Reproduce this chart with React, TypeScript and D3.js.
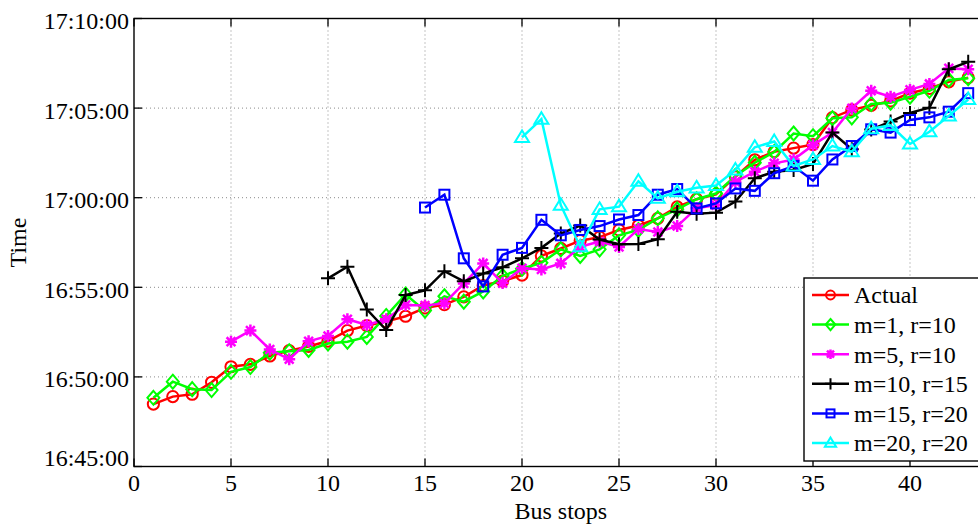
import React from "react";
import * as d3 from "d3";

const busStops = [1, 2, 3, 4, 5, 6, 7, 8, 9, 10, 11, 12, 13, 14, 15, 16, 17, 18, 19, 20, 21, 22, 23, 24, 25, 26, 27, 28, 29, 30, 31, 32, 33, 34, 35, 36, 37, 38, 39, 40, 41, 42, 43];

const actual = ["16:48:29", "16:48:54", "16:49:02", "16:49:42", "16:50:34", "16:50:42", "16:51:10", "16:51:28", "16:51:42", "16:52:00",
  "16:52:35", "16:52:52", "16:53:05", "16:53:23", "16:53:51", "16:54:02", "16:54:28", "16:55:06", "16:55:21", "16:55:41",
  "16:56:45", "16:57:10", "16:57:36", "16:57:48", "16:58:12", "16:58:27", "16:58:51", "16:59:29", "16:59:55", "17:00:11",
  "17:01:10", "17:02:07", "17:02:34", "17:02:46", "17:02:58", "17:04:28", "17:04:54", "17:05:09", "17:05:24", "17:05:50",
  "17:06:06", "17:06:28", "17:06:42"];

const m1r10 = ["16:48:50", "16:49:44", "16:49:19", "16:49:16", "16:50:17", "16:50:33", "16:51:21", "16:51:26", "16:51:30", "16:51:52",
  "16:51:58", "16:52:14", "16:53:24", "16:54:36", "16:53:42", "16:54:30", "16:54:12", "16:54:46", "16:55:38", "16:56:02",
  "16:56:22", "16:57:07", "16:56:45", "16:57:07", "16:57:54", "16:58:12", "16:58:51", "16:59:21", "16:59:55", "17:00:14",
  "17:01:13", "17:01:57", "17:02:33", "17:03:35", "17:03:26", "17:04:26", "17:04:29", "17:05:14", "17:05:18", "17:05:38",
  "17:05:58", "17:06:34", "17:06:40"];

const m5r10 = [null, null, null, null, "16:51:58", "16:52:35", "16:51:32", "16:50:59", "16:51:59", "16:52:17",
  "16:53:13", "16:52:54", "16:53:13", "16:54:01", "16:53:59", "16:54:06", "16:55:13", "16:56:20", "16:55:14", "16:56:04",
  "16:56:00", "16:56:20", "16:57:16", "16:57:33", "16:57:15", "16:58:15", "16:58:05", "16:58:25", "16:59:25", "16:59:35",
  "17:00:53", "17:01:27", "17:01:55", "17:02:08", "17:02:56", "17:03:38", "17:04:59", "17:05:58", "17:05:38", "17:06:01",
  "17:06:21", "17:07:13", "17:07:10"];

const m10r15 = [null, null, null, null, null, null, null, null, null, "16:55:30",
  "16:56:09", "16:53:46", "16:52:37", "16:54:34", "16:54:50", "16:55:54", "16:55:20", "16:55:46", "16:56:07", "16:56:37",
  "16:57:12", "16:58:00", "16:58:27", "16:57:40", "16:57:24", "16:57:25", "16:57:41", "16:59:13", "16:59:06", "16:59:10",
  "16:59:47", "17:01:05", "17:01:27", "17:01:33", "17:01:53", "17:03:38", "17:02:42", "17:03:48", "17:04:15", "17:04:44",
  "17:05:01", "17:07:10", "17:07:35"];

const m15r20 = [null, null, null, null, null, null, null, null, null, null,
  null, null, null, null, "16:59:27", "17:00:10", "16:56:37", "16:55:03", "16:56:49", "16:57:12",
  "16:58:46", "16:57:54", "16:58:12", "16:58:25", "16:58:47", "16:59:02", "17:00:10", "17:00:29", "16:59:24", "16:59:41",
  "17:00:31", "17:00:23", "17:01:22", "17:01:46", "17:00:57", "17:02:08", "17:02:53", "17:03:49", "17:03:38", "17:04:20",
  "17:04:29", "17:04:48", "17:05:50"];

const m20r20 = [null, null, null, null, null, null, null, null, null, null,
  null, null, null, null, null, null, null, null, null, "17:03:22",
  "17:04:23", "16:59:35", "16:57:16", "16:59:21", "16:59:30", "17:00:55", "16:59:58", "17:00:20", "17:00:33", "17:00:41",
  "17:01:33", "17:02:49", "17:03:08", "17:01:46", "17:02:08", "17:02:53", "17:02:34", "17:03:51", "17:04:02", "17:03:00",
  "17:03:41", "17:04:34", "17:05:29"];

const seriesNames = ["Actual", "m=1, r=10", "m=5, r=10", "m=10, r=15", "m=15, r=20", "m=20, r=20"];
const seriesColors = ["#ff0000", "#00ff00", "#ff00ff", "#000000", "#0000ff", "#00ffff"];
const seriesMarkers = ["circle", "diamond", "asterisk", "plus", "square", "triangle"];
const seriesValues = [actual, m1r10, m5r10, m10r15, m15r20, m20r20];

const xTicks = [0, 5, 10, 15, 20, 25, 30, 35, 40];
const yTickLabels = ["16:45:00", "16:50:00", "16:55:00", "17:00:00", "17:05:00", "17:10:00"];
const xDomain = [0, 44];
const xLabel = "Bus stops";
const yLabel = "Time";

const W = 978;
const H = 525;
const left = 134;
const top = 18.5;
const bottom = 466.5;
const right = 987.6;
const FONT = "'Liberation Serif', 'Times New Roman', serif";
const FS = 24;

const parse = d3.timeParse("%H:%M:%S");
const fmt = d3.timeFormat("%H:%M:%S");

const x = d3.scaleLinear().domain(xDomain).range([left, right]);
const y = d3.scaleTime()
  .domain([parse(yTickLabels[0]) as Date, parse(yTickLabels[yTickLabels.length - 1]) as Date])
  .range([bottom, top]);

function Marker({ type, cx, cy, color, s = 1 }: { type: string; cx: number; cy: number; color: string; s?: number }) {
  const sw = 2;
  if (type === "circle") return <circle cx={cx} cy={cy} r={5.6 * s} fill="none" stroke={color} strokeWidth={sw} />;
  if (type === "diamond") {
    const a = 7 * s, b = 6 * s;
    return <path d={`M${cx},${cy - a}L${cx + b},${cy}L${cx},${cy + a}L${cx - b},${cy}Z`} fill="none" stroke={color} strokeWidth={sw} />;
  }
  if (type === "square") {
    const a = 5 * s;
    return <rect x={cx - a} y={cy - a} width={2 * a} height={2 * a} fill="none" stroke={color} strokeWidth={sw} />;
  }
  if (type === "triangle") {
    const a = 7 * s, b = 7 * s;
    return <path d={`M${cx},${cy - a}L${cx + b},${cy + a * 0.65}L${cx - b},${cy + a * 0.65}Z`} fill="none" stroke={color} strokeWidth={sw} />;
  }
  if (type === "plus") {
    const a = 7 * s;
    return <path d={`M${cx - a},${cy}H${cx + a}M${cx},${cy - a}V${cy + a}`} fill="none" stroke={color} strokeWidth={sw} />;
  }
  const a = 6 * s, d = 4.4 * s;
  return (
    <path
      d={`M${cx - a},${cy}H${cx + a}M${cx},${cy - a}V${cy + a}M${cx - d},${cy - d}L${cx + d},${cy + d}M${cx - d},${cy + d}L${cx + d},${cy - d}`}
      fill="none" stroke={color} strokeWidth={sw + 0.5} />
  );
}

export default function App() {
  const yTicks = yTickLabels.map((t) => parse(t) as Date);
  const line = d3.line<[number, string | null]>()
    .defined((d) => d[1] != null)
    .x((d) => x(d[0]))
    .y((d) => y(parse(d[1] as string) as Date));

  const legendX = 804, legendY = 278, legendW = 180, legendH = 183;
  const rowY0 = 295, rowStep = 29.6;

  return (
    <svg width={W} height={H} style={{ position: "absolute", left: 0, top: 0, background: "#fff" }} fontFamily={FONT}>
      <defs>
        <clipPath id="plotclip">
          <rect x={left - 8} y={top - 8} width={right - left + 16} height={bottom - top + 16} />
        </clipPath>
      </defs>
      <rect x={0} y={0} width={W} height={H} fill="#fff" />
      <g stroke="#8a8a8a" strokeWidth={1} strokeDasharray="1,3">
        {xTicks.filter((t) => t !== xDomain[0]).map((t) => (
          <line key={"gx" + t} x1={x(t)} x2={x(t)} y1={top} y2={bottom} />
        ))}
        {yTicks.slice(1, -1).map((t, i) => (
          <line key={"gy" + i} x1={left} x2={right} y1={y(t)} y2={y(t)} />
        ))}
      </g>
      <g stroke="#000" strokeWidth={1.3}>
        {xTicks.map((t) => (
          <g key={"tx" + t}>
            <line x1={x(t)} x2={x(t)} y1={bottom} y2={bottom - 8} />
            <line x1={x(t)} x2={x(t)} y1={top} y2={top + 8} />
          </g>
        ))}
        {yTicks.map((t, i) => (
          <line key={"ty" + i} x1={left} x2={left + 8} y1={y(t)} y2={y(t)} />
        ))}
      </g>
      <g clipPath="url(#plotclip)">
        {seriesValues.map((vals, si) => {
          const pts: [number, string | null][] = busStops.map((b, i) => [b, vals[i] ?? null]);
          return (
            <g key={"s" + si}>
              <path d={line(pts) || ""} fill="none" stroke={seriesColors[si]} strokeWidth={2.5} strokeLinejoin="miter" />
              {pts.filter((p) => p[1] != null).map((p, i) => (
                <Marker key={i} type={seriesMarkers[si]} cx={x(p[0])} cy={y(parse(p[1] as string) as Date)} color={seriesColors[si]} />
              ))}
            </g>
          );
        })}
      </g>
      <rect x={left} y={top} width={right - left} height={bottom - top} fill="none" stroke="#000" strokeWidth={1.4} />
      <g fontSize={FS} fill="#000">
        {xTicks.map((t) => (
          <text key={"lx" + t} x={x(t)} y={491} textAnchor="middle">{t}</text>
        ))}
        {yTicks.map((t, i) => (
          <text key={"ly" + i} x={129} y={y(t) + (i === 0 ? -9 : 2)} textAnchor="end" dy="0.35em">{fmt(t)}</text>
        ))}
        <text x={(left + right) / 2} y={519} textAnchor="middle">{xLabel}</text>
        <text transform={`translate(26,${(top + bottom) / 2}) rotate(-90)`} textAnchor="middle">{yLabel}</text>
      </g>
      <g>
        <rect x={legendX} y={legendY} width={legendW} height={legendH} fill="#fff" stroke="#000" strokeWidth={1.4} />
        {seriesNames.map((n, i) => {
          const ry = rowY0 + i * rowStep;
          return (
            <g key={"lg" + i}>
              <line x1={812} x2={849} y1={ry} y2={ry} stroke={seriesColors[i]} strokeWidth={2.5} />
              <Marker type={seriesMarkers[i]} cx={830.5} cy={ry} color={seriesColors[i]} s={0.8} />
              <text x={854} y={ry} dy="0.35em" fontSize={FS}>{n}</text>
            </g>
          );
        })}
      </g>
    </svg>
  );
}
